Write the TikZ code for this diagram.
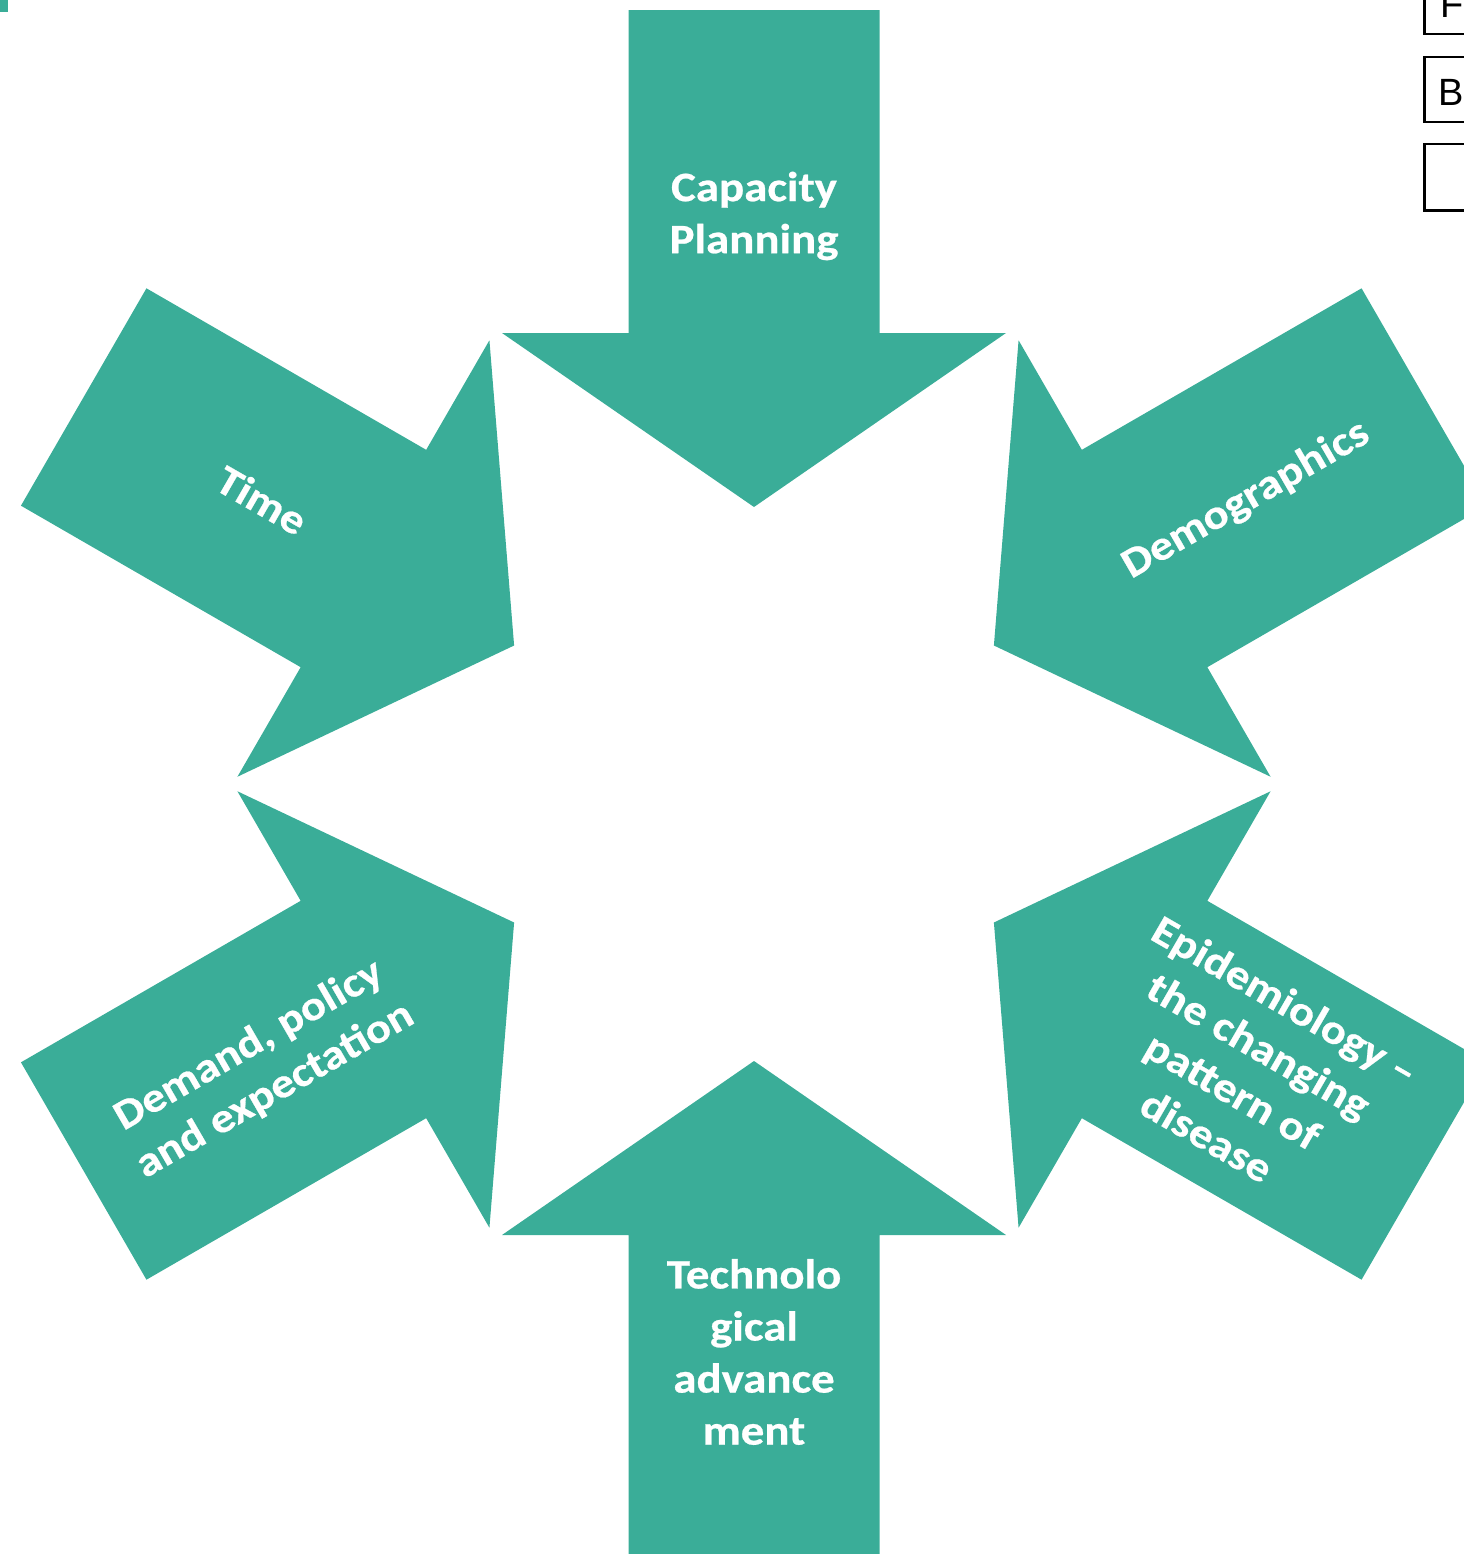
\documentclass[tikz,border=0pt]{standalone}
\usepackage{fontspec}
\newfontfamily\arrowfont[FakeStretch=1.12, FakeBold=0.6]{Carlito}
\setsansfont{Liberation Sans}
\definecolor{arrowteal}{RGB}{58,173,152}

\tikzset{
  arrowfill/.style={fill=arrowteal},
  arrowtext/.style={text=white, align=center, inner sep=0pt,
    font=\arrowfont\bfseries\fontsize{11.9}{14.8}\selectfont},
  keybox/.style={draw=black, line width=0.85pt},
  keytext/.style={anchor=base west, inner sep=0pt,
    font=\sffamily\fontsize{10.8}{13}\selectfont},
}

\begin{document}
\begin{tikzpicture}[x=0.01cm, y=-0.01cm]
      \useasboundingbox (0,0) rectangle (1464,1554);
      \clip (0,0) rectangle (1464,1554);

      \fill[arrowfill] (0,0) rectangle (8,12);

      \begin{scope}[shift={(754,784)}]
        \fill[arrowfill] (-125.5,-774) -- (125.5,-774) -- (125.5,-451) -- (252,-451) -- (0,-277) -- (-252,-451) -- (-125.5,-451) -- cycle;
        \fill[arrowfill, rotate=-60] (-125.5,-774) -- (125.5,-774) -- (125.5,-451) -- (252,-451) -- (0,-277) -- (-252,-451) -- (-125.5,-451) -- cycle;
        \fill[arrowfill, rotate=-120] (-125.5,-774) -- (125.5,-774) -- (125.5,-451) -- (252,-451) -- (0,-277) -- (-252,-451) -- (-125.5,-451) -- cycle;
        \fill[arrowfill, rotate=180] (-125.5,-774) -- (125.5,-774) -- (125.5,-451) -- (252,-451) -- (0,-277) -- (-252,-451) -- (-125.5,-451) -- cycle;
        \fill[arrowfill, rotate=120] (-125.5,-774) -- (125.5,-774) -- (125.5,-451) -- (252,-451) -- (0,-277) -- (-252,-451) -- (-125.5,-451) -- cycle;
        \fill[arrowfill, rotate=60] (-125.5,-774) -- (125.5,-774) -- (125.5,-451) -- (252,-451) -- (0,-277) -- (-252,-451) -- (-125.5,-451) -- cycle;
      \end{scope}

      \node[arrowtext] (capacity) at (754, 216) {Capacity\\Planning};
      \node[arrowtext, rotate=30] (demographics) at (1246, 500) {Demographics};
      \node[arrowtext, rotate=-30] (epidemiology) at (1246, 1068) {Epidemiology –\\the changing\\pattern of\\disease};
      \node[arrowtext] (technology) at (754, 1352) {Technolo\\gical\\advance\\ment};
      \node[arrowtext, rotate=30] (demand) at (262, 1068) {Demand, policy\\and expectation};
      \node[arrowtext, rotate=-30] (time) at (262, 500) {Time};

      \draw[keybox] (1424,-30) rectangle (1500,34);
      \draw[keybox] (1424,57) rectangle (1500,122);
      \draw[keybox] (1424,144) rectangle (1500,210);
      \node[keytext] (keyF) at (1440, 17) {F};
      \node[keytext] (keyB) at (1438, 105) {B};
\end{tikzpicture}
\end{document}
